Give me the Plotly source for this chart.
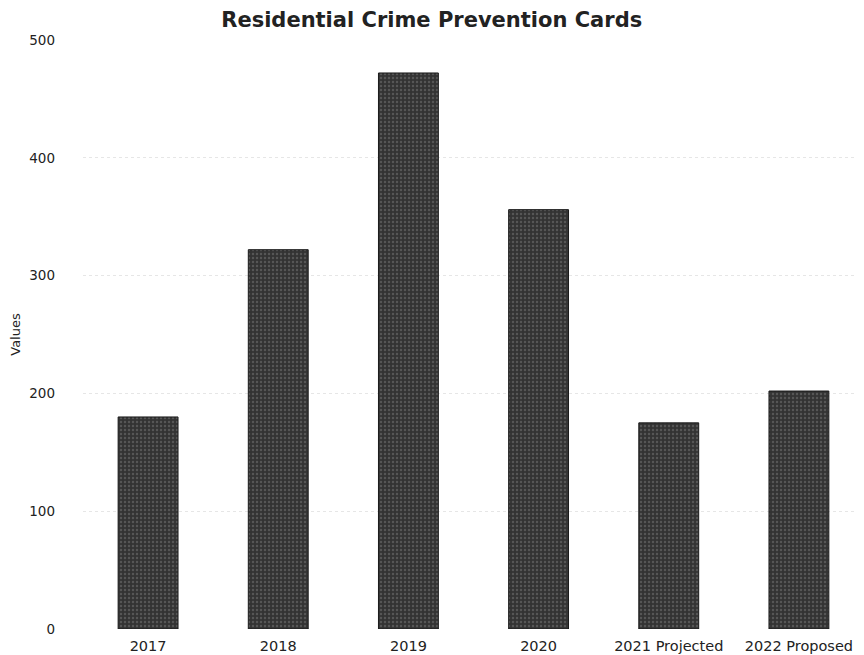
import plotly.graph_objects as go

categories = ["2017", "2018", "2019", "2020", "2021 Projected", "2022 Proposed"]
values = [180, 322, 472, 356, 175, 202]
y_ticks = [0, 100, 200, 300, 400, 500]

fig = go.Figure(go.Bar(
    x=categories, y=values,
    marker=dict(color="#3b3b3b", line=dict(color="#1a1a1a", width=1),
                pattern=dict(shape=".", fgcolor="#777777", bgcolor="#333333", size=4, solidity=0.3)),
))

fig.update_layout(
    width=856, height=647,
    margin=dict(l=75, r=0, t=32, b=26),
    paper_bgcolor="white", plot_bgcolor="white",
    bargap=0.54,
    font=dict(family="DejaVu Sans, sans-serif", size=13, color="#222"),
    title=dict(text="<b>Residential Crime Prevention Cards</b>", x=0.495, xanchor="center",
               xref="container", yref="container", y=0.994, yanchor="top", pad=dict(t=0, b=0),
               font=dict(size=21, color="#222")),
    showlegend=False,
)
fig.update_xaxes(showgrid=False, showline=False, ticks="", ticklabelstandoff=6,
                 tickfont=dict(size=14.5))
fig.update_yaxes(range=[0, 500], tickvals=y_ticks, showgrid=True, gridcolor="#e6e6e6",
                 griddash="dot", gridwidth=1, zeroline=False, showline=False,
                 ticklabelstandoff=27, automargin=False,
                 title=dict(text="Values", font=dict(size=13), standoff=8),
                 tickfont=dict(size=13.5))

fig.write_html("out.html")
